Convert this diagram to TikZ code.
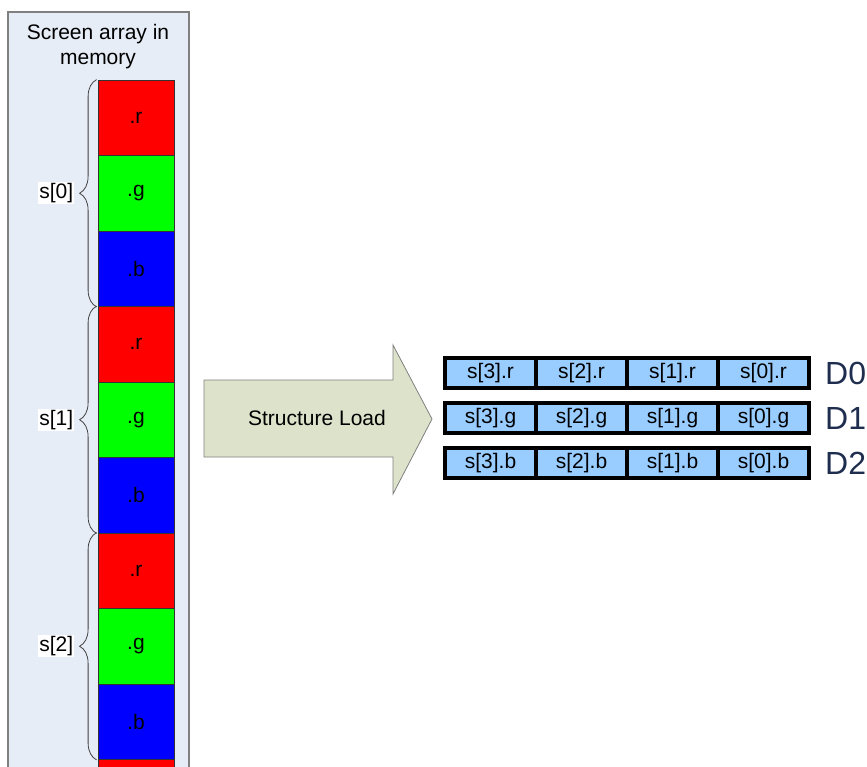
\documentclass[tikz,border=0pt]{standalone}
\usepackage{fontspec}
\setmainfont{Liberation Sans}
\usepackage{tikz}
\usetikzlibrary{calc,decorations.pathreplacing}

\definecolor{panelfill}{HTML}{E7EDF6}
\definecolor{panelline}{HTML}{808080}
\definecolor{arrowfill}{HTML}{DDE2CB}
\definecolor{regfill}{HTML}{99CCFF}
\definecolor{dname}{HTML}{1F2E4F}
\definecolor{cr}{HTML}{FF0000}
\definecolor{cg}{HTML}{00FF00}
\definecolor{cb}{HTML}{0000FF}

\begin{document}
\begin{tikzpicture}[x=1pt, y=-1pt,
    cell/.style={rectangle, draw=black!80, line width=0.8pt, minimum width=76pt,
                 minimum height=75.5pt, inner sep=0pt, font=\fontsize{21}{23}\selectfont},
    regcell/.style={rectangle, draw=black, line width=3.2pt, fill=regfill,
                    minimum width=91pt, minimum height=30pt, inner sep=0pt,
                    font=\fontsize{21}{23}\selectfont},
    bracelbl/.style={fill=white, inner sep=1pt, font=\fontsize{21}{23}\selectfont},
    brace/.style={decorate, decoration={brace, amplitude=17pt}, draw=black!75, line width=0.8pt}]
    \useasboundingbox (0,0) rectangle (867,766);
    \clip (0,0) rectangle (867,766);
    % memory panel
    \draw[fill=panelfill, draw=panelline, line width=1.2pt] (8,12) rectangle (189,790);
    \node[align=center, font=\fontsize{21}{25}\selectfont] (title) at (98,47) {Screen array in\\memory};
    % array cells (the last one runs off the page)
    \foreach \t/\col [count=\i from 0] in {.r/cr,.g/cg,.b/cb,.r/cr,.g/cg,.b/cb,.r/cr,.g/cg,.b/cb,/cr}
        \node[cell, fill=\col] (c\i) at (136, 80+75.5*\i+37.75) {\t};
    % braces per structure
    \foreach \k in {0,1,2} {
        \pgfmathtruncatemacro{\top}{3*\k}
        \pgfmathtruncatemacro{\bot}{3*\k+2}
        \draw[brace] ($(c\bot.south west)+(-1,0)$) -- ($(c\top.north west)+(-1,0)$)
            node[midway, left=22pt, bracelbl] (s\k) {s[\k]};
    }
    % structure load arrow
    \draw[fill=arrowfill, draw=panelline, line width=0.8pt]
        (204,380) -- (393,380) -- (393,345) -- (432,419) -- (393,494) -- (393,457) -- (204,457) -- cycle;
    \node[font=\fontsize{21}{23}\selectfont] (load) at (317,418) {Structure Load};
    % registers
    \foreach \f/\y [count=\r from 0] in {r/373,g/418,b/463} {
        \foreach \s [count=\j from 0] in {3,2,1,0}
            \node[regcell] (d\r\s) at (445+45.5+91*\j, \y) {s[\s].\f};
        \node[anchor=west, inner sep=0pt, text=dname, font=\fontsize{32}{34}\selectfont]
            (D\r) at (825,\y) {D\r};
    }
\end{tikzpicture}
\end{document}
